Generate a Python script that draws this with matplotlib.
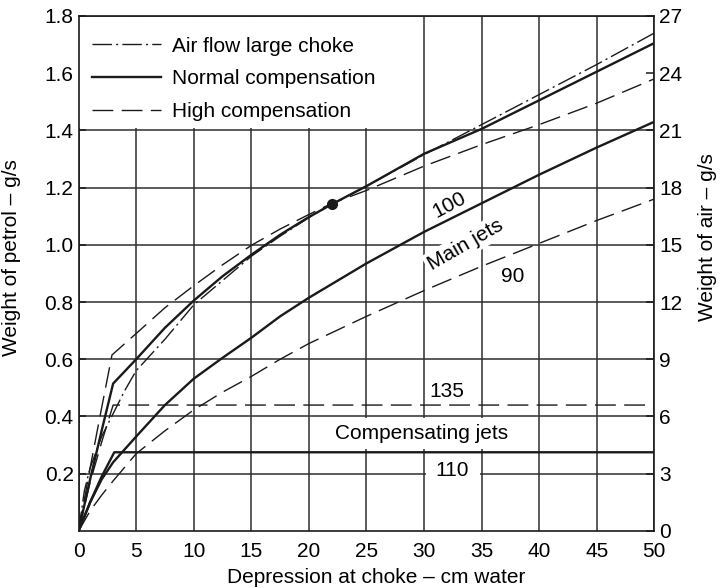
import matplotlib
matplotlib.use('Agg')
import matplotlib.pyplot as plt
from matplotlib.patches import Rectangle

plt.rcParams['font.family'] = ['Liberation Sans', 'DejaVu Sans']
plt.rcParams['font.size'] = 15

# depression at choke (cm water) and weights (g/s)
air_x = [0, 0.5, 1, 2, 3, 4, 5, 7.5, 10, 12.5, 15, 17.5, 20, 22, 25, 30, 35, 40, 45, 50]
air_y = [0, 0.14, 0.22, 0.33, 0.41, 0.49, 0.56, 0.67, 0.79, 0.875, 0.96, 1.03, 1.095, 1.142,
         1.205, 1.315, 1.42, 1.525, 1.63, 1.74]

normal_x = [0, 1, 2, 3, 5, 7.5, 10, 12.5, 15, 17.5, 20, 22, 25, 30, 35, 40, 45, 50]
normal_y = [0, 0.18, 0.35, 0.515, 0.60, 0.71, 0.805, 0.89, 0.965, 1.035, 1.097, 1.142, 1.205,
            1.318, 1.405, 1.505, 1.605, 1.705]

high_x = [0, 1, 2, 2.9, 5, 7.5, 10, 12.5, 15, 17.5, 20, 22, 25, 30, 35, 40, 45, 50]
high_y = [0, 0.22, 0.43, 0.615, 0.69, 0.78, 0.857, 0.93, 0.998, 1.055, 1.106, 1.145, 1.19,
          1.275, 1.35, 1.42, 1.495, 1.58]

main100_x = [0, 1, 2, 3, 5, 7.5, 10, 12.5, 15, 17.5, 20, 25, 30, 35, 40, 45, 50]
main100_y = [0, 0.1, 0.18, 0.24, 0.33, 0.44, 0.532, 0.605, 0.675, 0.75, 0.815, 0.935, 1.045,
             1.145, 1.245, 1.34, 1.43]

main90_x = [0, 1, 2, 3, 5, 7.5, 10, 12.5, 15, 17.5, 20, 25, 30, 35, 40, 45, 50]
main90_y = [0, 0.07, 0.125, 0.175, 0.27, 0.35, 0.423, 0.485, 0.54, 0.6, 0.655, 0.75, 0.84,
            0.925, 1.005, 1.085, 1.16]

comp135_x = [0, 1, 2, 3, 50]
comp135_y = [0, 0.17, 0.31, 0.44, 0.44]

comp110_x = [0, 1, 2, 3.1, 50]
comp110_y = [0, 0.1, 0.19, 0.275, 0.275]

match_x = [22]
match_y = [1.142]

x_ticks = [0, 5, 10, 15, 20, 25, 30, 35, 40, 45, 50]
y_ticks = [0.2, 0.4, 0.6, 0.8, 1.0, 1.2, 1.4, 1.6, 1.8]
y_labels = ['0.2', '0.4', '0.6', '0.8', '1.0', '1.2', '1.4', '1.6', '1.8']
air_ticks = [0, 3, 6, 9, 12, 15, 18, 21, 24, 27]

ink = '#1a1a1a'
fig = plt.figure(figsize=(7.21, 5.88), dpi=100)
ax = fig.add_axes([0.109, 0.097, 0.7985, 0.876])
ax.set_xlim(0, 50)
ax.set_ylim(0, 1.8)
ax.set_xticks(x_ticks)
ax.set_yticks(y_ticks)
ax.set_yticklabels(y_labels)
ax.set_axisbelow(True)
ax.grid(True, color='#2e2e2e', lw=1.1)
ax.yaxis.get_gridlines()[7].set_visible(False)  # no line at 1.6
ax.tick_params(axis='both', direction='in', length=5, width=1.1, color=ink, labelsize=15)
ax.tick_params(axis='x', length=0, pad=8)
for s in ax.spines.values():
    s.set_color(ink)
    s.set_linewidth(1.2)

# white areas behind the key and the labels
ax.add_patch(Rectangle((0.05, 1.407), 29.85, 0.39, facecolor='white', edgecolor='none', zorder=1))
ax.add_patch(Rectangle((21.6, 0.286), 16.5, 0.109, facecolor='white', edgecolor='none', zorder=1))
ax.add_patch(Rectangle((30.13, 0.185), 4.74, 0.05, facecolor='white', edgecolor='none', zorder=1))

l_air, = ax.plot(air_x, air_y, color=ink, lw=1.0, dashes=[14, 3, 1.5, 3], zorder=3,
                 label='Air flow large choke')
l_norm, = ax.plot(normal_x, normal_y, color=ink, lw=1.7, zorder=3, label='Normal compensation')
l_high, = ax.plot(high_x, high_y, color=ink, lw=1.0, dashes=[15, 6], zorder=3,
                  label='High compensation')
ax.plot(main100_x, main100_y, color=ink, lw=1.7, zorder=3)
ax.plot(main90_x, main90_y, color=ink, lw=1.0, dashes=[15, 6], zorder=3)
ax.plot(comp135_x, comp135_y, color=ink, lw=1.0, dashes=[15, 6], zorder=3)
ax.plot(comp110_x, comp110_y, color=ink, lw=1.7, zorder=3)
ax.plot(match_x, match_y, 'o', color=ink, ms=7, zorder=4)

ax.text(32.2, 1.14, '100', rotation=28, ha='center', va='center', fontsize=15, zorder=2)
ax.text(33.6, 1.0, 'Main jets', rotation=30, ha='center', va='center', fontsize=15, zorder=2,
        bbox=dict(facecolor='white', edgecolor='none', pad=2))
ax.text(37.7, 0.888, '90', ha='center', va='center', fontsize=15, zorder=2)
ax.text(32.0, 0.487, '135', ha='center', va='center', fontsize=15, zorder=2)
ax.text(29.8, 0.341, 'Compensating jets', ha='center', va='center', fontsize=15, zorder=2)
ax.text(32.4, 0.213, '110', ha='center', va='center', fontsize=15, zorder=2)

leg = ax.legend(handles=[l_air, l_norm, l_high], loc='upper left', bbox_to_anchor=(-0.013, 1.0),
                frameon=False, fontsize=15, handlelength=3.3, handletextpad=0.55,
                labelspacing=0.65, borderaxespad=0.6)
leg.set_zorder(5)

ax.set_xlabel('Depression at choke – cm water', fontsize=15)
ax.xaxis.set_label_coords(0.517, -0.072)
ax.set_ylabel('Weight of petrol – g/s', fontsize=15)
ax.yaxis.set_label_coords(-0.1, 0.53)

ax2 = ax.twinx()
ax2.set_ylim(0, 27)
ax2.set_yticks(air_ticks)
ax2.tick_params(axis='y', direction='in', length=6, width=1.1, color=ink, labelsize=15)
ax2.set_ylabel('Weight of air – g/s', fontsize=15)
ax2.yaxis.set_label_coords(1.076, 0.57)
for s in ax2.spines.values():
    s.set_visible(False)

fig.savefig('out.png', dpi=100)
